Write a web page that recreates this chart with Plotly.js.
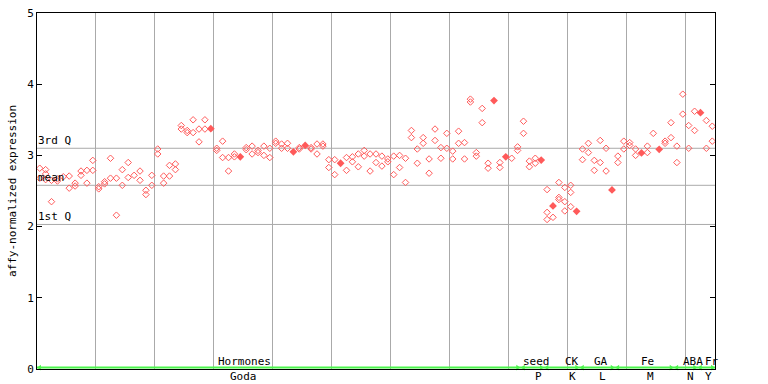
<!DOCTYPE html>
<html>
<head>
<meta charset="utf-8">
<script src="https://cdn.plot.ly/plotly-3.0.1.min.js"></script>
<style>html,body{margin:0;padding:0;background:#fff;}#chart{width:768px;height:384px;}</style>
</head>
<body>
<div id="chart"></div>
<script>
// Replicate values per sample (sample index = position in the concatenated list)
const hormonesGoda = [
  [2.82,2.68],[2.80,2.74,2.66],[2.35,2.65],[2.67,2.64],[2.70],[2.71,2.54],[2.61,2.57],[2.78,2.72],
  [2.79,2.61],[2.93,2.79],[2.56,2.53],[2.63,2.60],[2.96,2.68],[2.68,2.16],[2.80,2.58],[2.90,2.69],
  [2.72],[2.78,2.65],[2.51,2.45],[2.72,2.58],[3.09,3.02],[2.71,2.61],[2.86,2.71],[2.88,2.80],
  [3.42,3.37],[3.35,3.32],[3.50,3.32],[3.37,3.19],[3.50,3.37],[3.38,3.37],[3.10,3.07],[3.20,2.97],
  [2.97,2.78],[3.02,2.98],[2.98,2.98],[3.11,3.08],[3.13,3.02],[3.07,3.04],[3.13,3.00],[3.10,2.97],
  [3.20,3.17],[3.16,3.10],[3.17,3.10],[3.05,3.05],[3.11,3.09],[3.14,3.14],[3.11,3.09],[3.16,3.02],
  [3.16,3.13],[2.94,2.83],[2.94,2.73],[2.89,2.89],[2.97,2.79],[2.98,2.91],[3.02,2.84],[3.07,2.99],
  [3.02,2.78],[3.02,2.90],[2.99,2.85],[2.95,2.91],[2.99,2.73],[3.00,2.83],[2.96,2.62],[3.35,3.25],
  [3.09,2.89],[3.25,3.17],[2.95,2.75],[3.37,3.21],[3.11,2.96],[3.31,3.10],[3.06,2.95],[3.34,3.17],
  [3.18,2.95],[3.79,3.75],[3.04,2.99],[3.66,3.46],[2.89,2.82],[3.77,3.77],[2.90,2.83],[2.98,2.98],
  [2.96],[3.12,3.07]
];
const seedP = [[3.48,3.31],[2.92,2.84],[2.96,2.89],[2.94,2.93]];
const ckK = [[2.52,2.20,2.10],[2.29,2.29,2.13],[2.62,2.41,2.38],[2.55,2.35,2.22],[2.58,2.48,2.28],[2.22,2.21]];
const gaL = [[3.09,2.94],[3.17,3.04],[2.93,2.79],[3.21,2.90],[3.10,2.78],[2.52,2.51]];
const feM = [[2.99,2.90],[3.20,3.09],[3.18,3.14],[3.09,3.00],[3.04,3.03],[3.13,3.04],[3.31],[3.09,3.08],[3.20,3.17],[3.46,3.25]];
const abaN = [[3.13,2.90],[3.86,3.58],[3.42,3.10],[3.62,3.35]];
const frY = [[3.60,3.60],[3.49,3.10],[3.41,3.20]];

const groupNames = ["Hormones","seed","CK","GA","Fe","ABA","Fr"];
const groupCodes = ["Goda","P","K","L","M","N","Y"];
const groups = [hormonesGoda, seedP, ckK, gaL, feM, abaN, frY];

const quartile3 = 3.10, meanVal = 2.58, quartile1 = 2.03;
const yTicks = [0,1,2,3,4,5];

// build points
const openX=[], openY=[], fillX=[], fillY=[];
const starts=[], ends=[];
let idx = 0;
groups.forEach(g => {
  starts.push(idx);
  g.forEach(vals => {
    const used = new Array(vals.length).fill(false);
    for (let a=0;a<vals.length;a++){
      if (used[a]) continue;
      let paired=false;
      for (let b=a+1;b<vals.length;b++){
        if(!used[b] && Math.abs(vals[a]-vals[b])<=0.015){used[b]=true;paired=true;fillX.push(idx);fillY.push((vals[a]+vals[b])/2);break;}
      }
      if(!paired){openX.push(idx);openY.push(vals[a]);}
    }
    idx++;
  });
  ends.push(idx-1);
});
const nSamples = idx;

const red = "#ff5a5a";
const green = "#4cf54c";
const mono = "DejaVu Sans Mono, monospace";

const traces = [
  {x:openX,y:openY,type:"scatter",mode:"markers",hoverinfo:"skip",
   marker:{symbol:"diamond-open",size:5,color:red,line:{width:1,color:red}},cliponaxis:false},
  {x:fillX,y:fillY,type:"scatter",mode:"markers",hoverinfo:"skip",
   marker:{symbol:"diamond",size:6,color:red,line:{width:0}},cliponaxis:false},
  {x:starts,y:starts.map(()=>0.02),type:"scatter",mode:"markers",hoverinfo:"skip",
   marker:{symbol:"triangle-left",size:5,color:green},cliponaxis:false},
  {x:ends,y:ends.map(()=>0.02),type:"scatter",mode:"markers",hoverinfo:"skip",
   marker:{symbol:"triangle-right",size:5,color:green},cliponaxis:false}
];

const xMin=-0.46, xMax=nSamples-1+0.46;
const labelPos = [34.7, 84.2, 90.2, 95.1, 103.0, 110.8, 113.9];
const codePos = [34.5, 84.5, 90.3, 95.4, 103.6, 110.3, 113.4];

const annotations = [];
[[quartile3,"3rd Q"],[meanVal,"mean"],[quartile1,"1st Q"]].forEach(([v,t])=>{
  annotations.push({xref:"paper",yref:"y",x:0,y:v,text:t,showarrow:false,xanchor:"left",yanchor:"bottom",
    font:{family:mono,size:11,color:"#000"},xshift:-1,yshift:-1});
});
groupNames.forEach((n,i)=>{
  annotations.push({xref:"x",yref:"y",x:labelPos[i],y:0,text:n,showarrow:false,xanchor:"center",yanchor:"bottom",
    font:{family:mono,size:11,color:"#000"},yshift:-1});
  annotations.push({xref:"x",yref:"paper",x:codePos[i],y:0,text:groupCodes[i],showarrow:false,xanchor:"center",yanchor:"top",
    font:{family:mono,size:11,color:"#000"},yshift:1});
});

const shapes = [
  {type:"line",xref:"paper",yref:"y",x0:0,x1:1,y0:quartile3,y1:quartile3,line:{color:"#aaaaaa",width:1},layer:"below"},
  {type:"line",xref:"paper",yref:"y",x0:0,x1:1,y0:meanVal,y1:meanVal,line:{color:"#aaaaaa",width:1},layer:"below"},
  {type:"line",xref:"paper",yref:"y",x0:0,x1:1,y0:quartile1,y1:quartile1,line:{color:"#aaaaaa",width:1},layer:"below"},
  {type:"line",xref:"paper",yref:"y",x0:0,x1:1,y0:0.02,y1:0.02,line:{color:green,width:2},layer:"above"}
];

const layout = {
  width:768,height:384,
  margin:{l:37,r:53,t:13,b:15,pad:0},
  paper_bgcolor:"#fff",plot_bgcolor:"#fff",
  showlegend:false,
  xaxis:{range:[xMin,xMax],showticklabels:false,ticks:"",showgrid:true,gridcolor:"#aaaaaa",gridwidth:1,
    tick0:9.5,dtick:10,tickmode:"linear",zeroline:false,showline:true,linecolor:"#000",linewidth:1,mirror:true,fixedrange:true},
  yaxis:{range:[0,5],tickvals:yTicks,ticktext:yTicks.map(String),ticks:"inside",ticklen:5,tickcolor:"#000",showgrid:false,
    zeroline:false,showline:true,linecolor:"#000",linewidth:1,mirror:"ticks",
    tickfont:{family:mono,size:11,color:"#000"},
    title:{text:"affy-normalized expression",font:{family:mono,size:11,color:"#000"},standoff:8},fixedrange:true},
  shapes:shapes,
  annotations:annotations
};

Plotly.newPlot("chart",traces,layout,{displayModeBar:false,staticPlot:true});
</script>
</body>
</html>
